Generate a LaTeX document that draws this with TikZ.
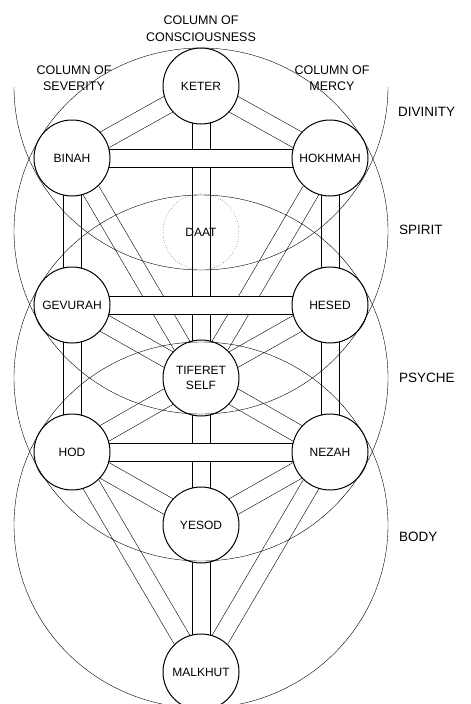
\documentclass[tikz,border=0pt]{standalone}
\usepackage{fontspec}
\setmainfont{Liberation Sans}
\usetikzlibrary{positioning,backgrounds,calc}
\newcommand{\sefirafont}{\fontsize{12}{15}\selectfont}
\newcommand{\pillarfont}{\fontsize{12.5}{16.5}\selectfont}
\newcommand{\realmfont}{\fontsize{13.5}{15}\selectfont}
% a path between two sefirot: a white band with two edges
\newcommand{\sefirapath}[2]{%
  \coordinate (p1) at ($(#1.center)!9pt!90:(#2.center)$);
  \coordinate (p2) at ($(#2.center)!9pt!-90:(#1.center)$);
  \coordinate (q1) at ($(#1.center)!9pt!-90:(#2.center)$);
  \coordinate (q2) at ($(#2.center)!9pt!90:(#1.center)$);
  \fill[white] (p1) -- (p2) -- (q2) -- (q1) -- cycle;
  \draw (p1) -- (p2) (q1) -- (q2);}

\begin{document}
\begin{tikzpicture}[x=1pt, y=-1pt, line width=1pt,
    sefira/.style={draw, circle, fill=white, minimum size=76pt, inner sep=0pt, align=center, font=\sefirafont},
    pillar/.style={align=center, inner sep=0pt, font=\pillarfont},
    realm/.style={anchor=west, inner sep=0pt, font=\realmfont}]
  \useasboundingbox (0,0) rectangle (471,704);

  % Middle column
  \node[sefira] (keter) at (201,86) {KETER};
  \node[sefira, fill=none, draw=black!55, dotted, line width=0.6pt] (daat) at (201,232) {DAAT};
  \node[sefira] (tiferet) at (201,378) {TIFERET\\SELF};
  \node[sefira] (yesod) at (201,525) {YESOD};
  \node[sefira] (malkhut) at (201,672) {MALKHUT};

  % Column of severity
  \node[sefira] (binah) at (72,158) {BINAH};
  \node[sefira] (gevurah) at (72,305) {GEVURAH};
  \node[sefira] (hod) at (72,452) {HOD};

  % Column of mercy
  \node[sefira] (hokhmah) at (330,158) {HOKHMAH};
  \node[sefira] (hesed) at (330,305) {HESED};
  \node[sefira] (nezah) at (330,452) {NEZAH};

  % Paths, the horizontal ones on top
  \begin{pgfonlayer}{background}
    \foreach \a/\b in {keter/binah, keter/hokhmah, keter/tiferet,
        binah/gevurah, hokhmah/hesed, binah/tiferet, hokhmah/tiferet,
        gevurah/tiferet, hesed/tiferet, gevurah/hod, hesed/nezah,
        tiferet/hod, tiferet/nezah, tiferet/yesod, hod/yesod, nezah/yesod,
        hod/malkhut, nezah/malkhut, yesod/malkhut}
      {\sefirapath{\a}{\b}}
    \foreach \a/\b in {binah/hokhmah, gevurah/hesed, hod/nezah}
      {\sefirapath{\a}{\b}}
  \end{pgfonlayer}

  % Columns
  \node[pillar] (consciousness) at (201,28.5) {COLUMN OF\\CONSCIOUSNESS};
  \node[pillar] (severity) at (74,78) {COLUMN OF\\SEVERITY};
  \node[pillar] (mercy) at (332,78) {COLUMN OF\\MERCY};

  % Levels
  \draw (14,87) arc[start angle=180, end angle=360, x radius=187pt, y radius=183pt];
  \draw (201,231) ellipse[x radius=187pt, y radius=183pt];
  \draw (201,378) ellipse[x radius=187pt, y radius=183pt];
  \draw (201,525) ellipse[x radius=187pt, y radius=183pt];

  \node[realm] (divinity) at (398,112) {DIVINITY};
  \node[realm] (spirit) at (399,230) {SPIRIT};
  \node[realm] (psyche) at (399,378) {PSYCHE};
  \node[realm] (body) at (399,537) {BODY};
\end{tikzpicture}
\end{document}
